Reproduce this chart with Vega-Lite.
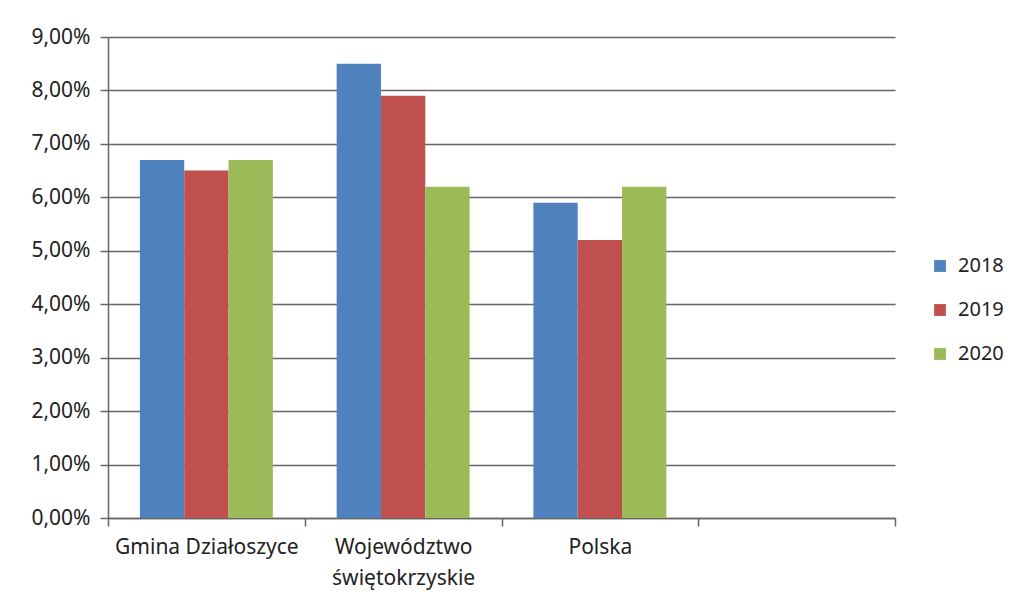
{
  "$schema": "https://vega.github.io/schema/vega-lite/v6.json",
  "autosize": {"type": "none"},
  "padding": {"left": 108, "top": 37, "right": 125, "bottom": 86},
  "width": 787,
  "height": 481,
  "background": "white",
  "config": {
    "font": "Noto Sans",
    "view": {"stroke": null}
  },
  "data": {
    "values": [
      {"region": "Gmina Działoszyce", "year": "2018", "value": 6.7},
      {"region": "Gmina Działoszyce", "year": "2019", "value": 6.5},
      {"region": "Gmina Działoszyce", "year": "2020", "value": 6.7},
      {"region": "Województwo świętokrzyskie", "year": "2018", "value": 8.5},
      {"region": "Województwo świętokrzyskie", "year": "2019", "value": 7.9},
      {"region": "Województwo świętokrzyskie", "year": "2020", "value": 6.2},
      {"region": "Polska", "year": "2018", "value": 5.9},
      {"region": "Polska", "year": "2019", "value": 5.2},
      {"region": "Polska", "year": "2020", "value": 6.2}
    ]
  },
  "mark": {"type": "bar"},
  "encoding": {
    "x": {
      "field": "region",
      "type": "nominal",
      "scale": {
        "domain": ["Gmina Działoszyce", "Województwo świętokrzyskie", "Polska", " "],
        "paddingInner": 0,
        "paddingOuter": 0
      },
      "axis": {
        "title": null,
        "labelAngle": 0,
        "tickBand": "extent",
        "tickSize": 8,
        "tickColor": "#666666",
        "tickWidth": 1.5,
        "domainColor": "#666666",
        "domainWidth": 1.5,
        "labelFontSize": 21,
        "labelLimit": 400,
        "labelOverlap": false,
        "labelColor": "#222222",
        "labelPadding": 10,
        "labelLineHeight": 31,
        "labelExpr": "datum.value == 'Województwo świętokrzyskie' ? ['Województwo', 'świętokrzyskie'] : datum.label"
      }
    },
    "xOffset": {"field": "year", "type": "nominal", "scale": {"paddingInner": 0, "paddingOuter": 0.72}},
    "y": {
      "field": "value",
      "type": "quantitative",
      "scale": {"domain": [0, 9]},
      "axis": {
        "title": null,
        "values": [0, 1, 2, 3, 4, 5, 6, 7, 8, 9],
        "labelExpr": "replace(format(datum.value, '.2f'), '.', ',') + '%'",
        "labelFontSize": 21,
        "labelColor": "#222222",
        "labelPadding": 10,
        "tickSize": 8,
        "tickColor": "#666666",
        "tickWidth": 1.5,
        "domainColor": "#666666",
        "domainWidth": 1.5,
        "gridColor": "#666666",
        "gridWidth": 1.5,
        "gridOpacity": 1
      }
    },
    "color": {
      "field": "year",
      "type": "nominal",
      "scale": {"domain": ["2018", "2019", "2020"], "range": ["#4F81BD", "#C0504D", "#9BBB59"]},
      "legend": {
        "title": null,
        "orient": "none",
        "legendX": 822,
        "legendY": 219,
        "symbolType": "square",
        "symbolSize": 140,
        "symbolStrokeWidth": 0,
        "labelFontSize": 20,
        "labelColor": "#222222",
        "rowPadding": 24,
        "labelOffset": 8
      }
    }
  }
}
